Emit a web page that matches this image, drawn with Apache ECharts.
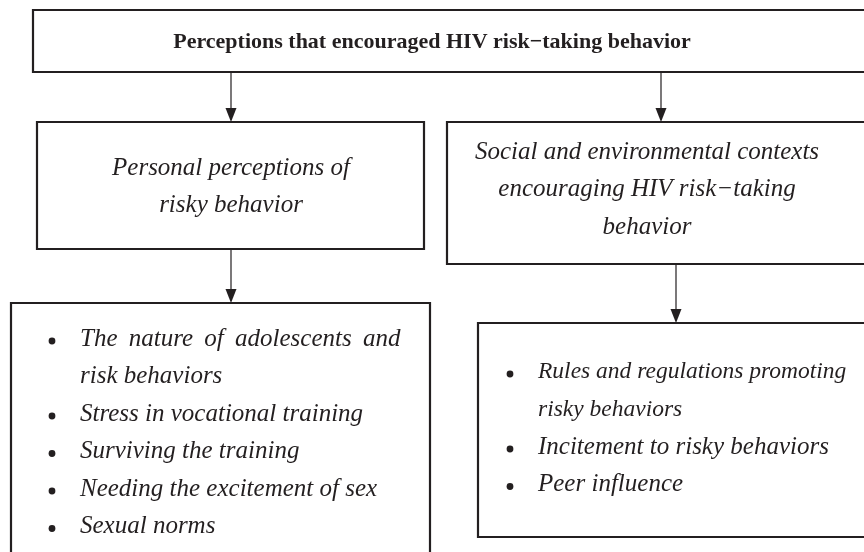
<!DOCTYPE html>
<html>
<head>
<meta charset="utf-8">
<script src="https://cdn.jsdelivr.net/npm/echarts@6/dist/echarts.min.js"></script>
<style>html,body{margin:0;padding:0;background:#fff}#c{width:864px;height:552px}</style>
</head>
<body>
<div id="c"></div>
<script>
// ---- content ----
var titleText = 'Perceptions that encouraged HIV risk\u2212taking behavior';
var leftHeading = ['Personal perceptions of', 'risky behavior'];
var rightHeading = ['Social and environmental contexts', 'encouraging HIV risk\u2212taking', 'behavior'];
var leftItems = [['The \u2009nature \u2009of \u2009adolescents \u2009and', 'risk behaviors'], ['Stress in vocational training'], ['Surviving the training'], ['Needing the excitement of sex'], ['Sexual norms']];
var rightItems = [['Rules and regulations promoting', 'risky behaviors'], ['Incitement to risky behaviors'], ['Peer influence']];

// ---- layout ----
var INK = '#231f20';
var SERIF = '"Liberation Serif", "Times New Roman", serif';
var boxes = {
  top: [33, 10, 860, 62],
  l1: [37, 122, 387, 127],
  r1: [447, 122, 430, 142],
  l2: [11, 303, 419, 270],
  r2: [478, 323, 400, 214]
};
var LH = 37.5;

var els = [];
function box(b) {
  els.push({type: 'rect', shape: {x: b[0], y: b[1], width: b[2], height: b[3]},
    style: {fill: '#fff', stroke: INK, lineWidth: 2.2}, z: 1});
}
function arrow(x, y1, y2) {
  els.push({type: 'line', shape: {x1: x, y1: y1, x2: x, y2: y2 - 12}, style: {stroke: INK, lineWidth: 1.2}, z: 2});
  els.push({type: 'polygon', shape: {points: [[x - 5.5, y2 - 14], [x + 5.5, y2 - 14], [x, y2]]}, style: {fill: INK}, z: 2});
}
function txt(s, x, y, font, align) {
  els.push({type: 'text', x: x, y: y, z: 3,
    style: {text: s, font: font, fill: INK, textAlign: align || 'center', textVerticalAlign: 'middle', align: align || 'center', verticalAlign: 'middle'}});
}
function bullets(items, bx, tx, y0, size) {
  var y = y0;
  items.forEach(function (it, i) {
    els.push({type: 'circle', shape: {cx: bx, cy: y + 2, r: 3.4}, style: {fill: INK}, z: 3});
    it.forEach(function (line) {
      txt(line, tx, y, 'italic ' + size(i) + 'px ' + SERIF, 'left');
      y += LH;
    });
  });
}

Object.keys(boxes).forEach(function (k) { box(boxes[k]); });
arrow(231, 73, 122);
arrow(661, 73, 122);
arrow(231, 250, 303);
arrow(676, 265, 323);

txt(titleText, 432, 42, 'bold 22px ' + SERIF);
leftHeading.forEach(function (s, i) { txt(s, 231, 168 + i * LH, 'italic 25px ' + SERIF); });
rightHeading.forEach(function (s, i) { txt(s, 647, 152 + i * LH, 'italic 25px ' + SERIF); });
bullets(leftItems, 52, 80, 339, function () { return 25; });
bullets(rightItems, 510, 538, 372, function (i) { return i === 0 ? 23.5 : 25; });

var chart = echarts.init(document.getElementById('c'));
chart.setOption({animation: false, backgroundColor: '#fff', graphic: {elements: els}});
</script>
</body>
</html>
